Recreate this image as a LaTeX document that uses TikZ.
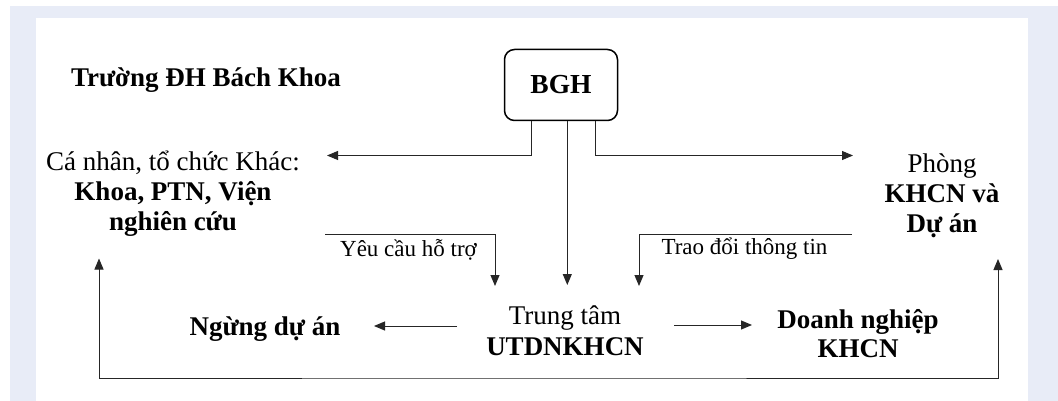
\documentclass[tikz,border=0pt]{standalone}
\usepackage{fontspec}
\setmainfont{Liberation Serif}
\usetikzlibrary{arrows.meta,calc}
\definecolor{framebg}{RGB}{232,236,247}
\newcommand\mainsize{\fontsize{27}{30}\selectfont}
\newcommand\lblsize{\fontsize{23}{27}\selectfont}
\begin{document}
\begin{tikzpicture}[x=1pt,y=-1pt,
  main/.style={inner sep=0pt,anchor=base,font=\mainsize},
  mainbf/.style={inner sep=0pt,anchor=base,font=\mainsize\bfseries},
  lbl/.style={inner sep=0pt,anchor=base,font=\lblsize},
  link/.style={line width=1pt,draw=black!85},
  tip/.style={Triangle[length=11pt,width=9pt]},
  arr/.style={link,-{Triangle[length=11pt,width=9pt]}},
  dblarr/.style={link,{Triangle[length=11pt,width=9pt]}-{Triangle[length=11pt,width=9pt]}},
  boss/.style={draw,line width=1.5pt,rounded corners=10pt,minimum width=113pt,
    minimum height=71pt,inner sep=0pt,font=\fontsize{27.5}{30}\selectfont\bfseries}
]
\useasboundingbox (0,0) rectangle (1058,401);
% page frame
\fill[framebg] (10,6) rectangle (1058,401);
\fill[white] (36,18) rectangle (1028,401);

% nodes
\node[mainbf] (truong) at (206,87) {Trường ĐH Bách Khoa};
\node[boss] (bgh) at (561,85) {BGH};
\node[main] (canhan) at (173,171) {\begin{tabular}[t]{@{}c@{}}Cá nhân, tổ chức Khác:\\
  \textbf{Khoa, PTN, Viện}\\ \textbf{nghiên cứu}\end{tabular}};
\node[main] (phong) at (942,172.5) {\begin{tabular}[t]{@{}c@{}}Phòng\\
  \textbf{KHCN và}\\ \textbf{Dự án}\end{tabular}};
\node[main] (trung) at (565,324) {\begin{tabular}[t]{@{}c@{}}Trung tâm\\[1.5pt]
  \textbf{UTDNKHCN}\end{tabular}};
\node[mainbf] (ngung) at (265,335) {Ngừng dự án};
\node[main] (doanh) at (858,328) {\begin{tabular}[t]{@{}c@{}}\textbf{Doanh nghiệp}\\[-1pt]
  \textbf{KHCN}\end{tabular}};
\node[lbl] (yeulbl) at (408.5,256) {Yêu cầu hỗ trợ};
\node[lbl] (traolbl) at (744.5,254) {Trao đổi thông tin};

% connector end points
\coordinate (tipKhac) at (327,155.5);
\coordinate (tipPhong) at (853,155.5);
\coordinate (tipMid) at (567.3,285);
\coordinate (yeuStart) at (325,234.3);
\coordinate (tipYeu) at (495,286);
\coordinate (traoStart) at (851.7,234.3);
\coordinate (tipTrao) at (639,286);
\coordinate (ngungStart) at (457,326);
\coordinate (tipNgung) at (374,326);
\coordinate (doanhStart) at (674,325);
\coordinate (tipDoanh) at (752,325);
\coordinate (tipLoopL) at (99,258.5);
\coordinate (tipLoopR) at (998,259);
\coordinate (loopY) at (500,378);

% connectors
\draw[arr] ($(bgh.south)+(-29.5,0)$) |- (tipKhac);
\draw[arr] ($(bgh.south)+(6.3,0)$) -- (tipMid);
\draw[arr] ($(bgh.south)+(34.5,0)$) |- (tipPhong);
\draw[arr] (yeuStart) -| (tipYeu);
\draw[arr] (traoStart) -| (tipTrao);
\draw[arr] (ngungStart) -- (tipNgung);
\draw[arr] (doanhStart) -- (tipDoanh);
\draw[dblarr] (tipLoopL) |- (loopY) -| (tipLoopR);
\end{tikzpicture}
\end{document}
